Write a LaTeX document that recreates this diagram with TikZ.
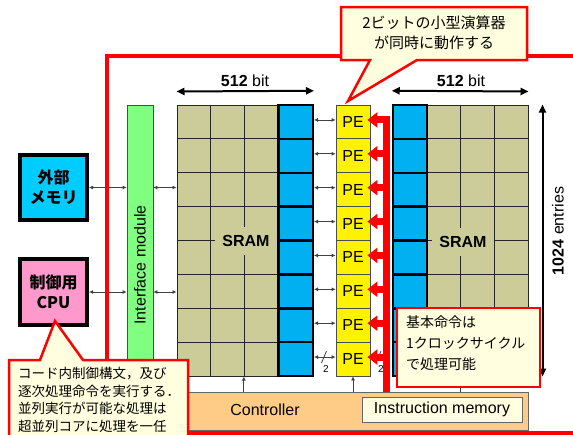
\documentclass[tikz,border=0pt]{standalone}
\usepackage{fontspec}
\setmainfont{Liberation Sans}
\newfontfamily\jp{Noto Sans CJK JP}
\usetikzlibrary{arrows.meta}
\definecolor{sramc}{HTML}{CCCC99}
\definecolor{cellblue}{HTML}{00B0F0}
\definecolor{extcyan}{HTML}{00CCFF}
\definecolor{cpupink}{HTML}{FF99CC}
\definecolor{ifgreen}{HTML}{80FF80}
\definecolor{callfill}{HTML}{FFFFE0}
\definecolor{ctlorange}{HTML}{FFCC88}
\definecolor{arrgray}{HTML}{404040}
\begin{document}
\begin{tikzpicture}[x=1pt,y=-1pt,
  cell/.style={draw=black!85, line width=1pt, fill=sramc, minimum width=33.67pt, minimum height=33.875pt, inner sep=0pt},
  bcell/.style={draw=black, line width=2.5pt, fill=cellblue, minimum width=34pt, minimum height=33.875pt, inner sep=0pt},
  pecell/.style={draw=black!70, line width=0.8pt, fill=yellow, minimum width=34pt, minimum height=33.875pt, inner sep=0pt, font=\fontsize{16}{18}\selectfont},
  dbl/.style={{Latex[length=4pt,width=4pt]}-{Latex[length=4pt,width=4pt]}, line width=0.8pt, draw=arrgray},
  uparr/.style={-{Latex[length=4pt,width=4pt]}, line width=0.8pt, draw=arrgray},
  bigarr/.style={{Triangle[length=8pt,width=7pt]}-{Triangle[length=8pt,width=7pt]}, line width=2pt, draw=black},
  redarr/.style={draw=red, line width=7pt, -{Triangle[length=10pt,width=15pt]}, shorten >=-3pt},
  callout/.style={fill=callfill, draw=red, line width=2.5pt, line join=miter},
  extbox/.style={draw=black, line width=4pt, minimum width=67pt, minimum height=65pt, inner sep=0pt, align=center, font=\jp\bfseries\fontsize{16}{20}\selectfont},
  lbl/.style={font=\fontsize{16}{19}\selectfont, inner sep=0pt}
]
\useasboundingbox (0,0) rectangle (573,434);
\fill[white] (0,0) rectangle (573,434);

% interface module
\node[draw=black!70, line width=0.8pt, fill=ifgreen, rotate=90, minimum width=320pt, minimum height=26pt, inner sep=0pt, font=\fontsize{16}{18}\selectfont] (ifm) at (140,265) {Interface module};

% controller
\node[draw=black!60, line width=1pt, fill=ctlorange, minimum width=368pt, minimum height=38pt, inner sep=0pt] (ctl) at (344,411) {};
\node[lbl] (ctltxt) at (265,410) {Controller};
\node[draw=black!60, line width=1pt, fill=callfill, minimum width=160pt, minimum height=25pt, inner sep=0pt, font=\fontsize{16}{18}\selectfont] (imem) at (442,409.5) {Instruction memory};

% SRAM grids
\foreach \r in {0,...,7} {
  \pgfmathsetmacro\yy{105+33.875*(\r+0.5)}
  \foreach \c in {0,1,2} {
    \node[cell] (L\r\c) at ({177+33.67*(\c+0.5)},\yy) {};
    \node[cell] (R\r\c) at ({427+33.67*(\c+0.5)},\yy) {};
  }
}
\foreach \r in {0,...,7} {
  \pgfmathsetmacro\yy{105+33.875*(\r+0.5)}
  \node[bcell, minimum width=34.5pt] (BL\r) at (295.5,\yy) {};
  \node[bcell] (BR\r) at (410,\yy) {};
  \node[pecell] (P\r) at (353,\yy) {PE};
  \coordinate (pa\r) at ([yshift=2pt]P\r.east);
  \coordinate (pw\r) at ([yshift=2pt]P\r.west);
  \draw[dbl] (pw\r -| BL\r.east) -- (pw\r);
}
\node[fill=sramc, inner xsep=7pt, inner ysep=8pt, font=\bfseries\fontsize{16}{18}\selectfont] (sramL) at (246,241) {SRAM};
\node[fill=sramc, inner xsep=7pt, inner ysep=8pt, font=\bfseries\fontsize{16}{18}\selectfont] (sramR) at (463,242) {SRAM};

% /2 marks
\draw[line width=0.8pt, draw=arrgray] (321.5,363) -- (326.5,351);
\node[inner sep=0pt, font=\fontsize{10}{10}\selectfont] (two1) at (326,369) {2};
\draw[line width=0.8pt, draw=arrgray] (376,363) -- (381,351);
\node[inner sep=0pt, font=\fontsize{10}{10}\selectfont] (two2) at (381,369) {2};

% width / height arrows
\draw[bigarr] ([yshift=13pt]L00.north west) -- ([yshift=13pt]BL0.north east);
\node[lbl] (w1) at (245,81) {\textbf{512} bit};
\draw[bigarr] ([yshift=13pt]BR0.north west) -- ([yshift=13pt]R02.north east);
\node[lbl] (w2) at (461,81) {\textbf{512} bit};
\draw[bigarr] ([xshift=14pt]R02.north east) -- ([xshift=14pt]R72.south east);
\node[lbl, rotate=90] (h1) at (558,231) {\textbf{1024} entries};

% controller arrows
\draw[uparr] (ctl.north -| L72.south west) -- (L72.south west);
\draw[uparr] (ctl.north -| P7.south) -- (P7.south);
\draw[uparr] (ctl.north -| R71.south west) -- (R71.south west);

% red bus
\coordinate (busTop) at (386.5,116.5);
\coordinate (busR) at (390,0);
\draw[red, line width=7pt] (busTop) -- (busTop |- ctl.north);
\foreach \r in {0,...,7} {
  \draw[redarr] (pa\r -| busR) -- (pa\r);
}

% external boxes
\node[extbox, fill=extcyan] (mem) at (53.5,187.5) {外部\\メモリ};
\node[extbox, fill=cpupink, minimum height=66pt] (cpu) at (53.5,292) {制御用\\CPU};
\draw[dbl] (mem.east) -- (mem.east -| ifm.north);
\draw[dbl] (cpu.east) -- (cpu.east -| ifm.north);
\draw[dbl] (ifm.south |- mem.east) -- (L20.west |- mem.east);
\draw[dbl] (ifm.south |- cpu.east) -- (L50.west |- cpu.east);

% red frame
\draw[red, line width=4pt] (107,56) rectangle (700,432.5);

% callouts
\draw[callout] (341,7) -- (527,7) -- (527,60) -- (417,60) -- (348,101) -- (370,60) -- (341,60) -- cycle;
\node[align=center, inner sep=0pt, font=\jp\fontsize{15}{20}\selectfont] (c1) at (434,33) {2ビットの小型演算器\\が同時に動作する};

\draw[callout] (397,308) rectangle (540,387);
\node[align=left, anchor=north west, inner sep=0pt, font=\jp\fontsize{14}{21}\selectfont] (c2) at (406,316) {基本命令は\\1クロックサイクル\\で処理可能};

\draw[callout] (9,360) -- (40,360) -- (55,321) -- (83,360) -- (188,360) -- (188,445) -- (9,445) -- cycle;
\node[align=left, anchor=north west, inner sep=0pt, font=\jp\fontsize{13.5}{17.7}\selectfont] (c3) at (18,367) {コード内制御構文，及び\\逐次処理命令を実行する．\\並列実行が可能な処理は\\超並列コアに処理を一任};
\end{tikzpicture}
\end{document}
